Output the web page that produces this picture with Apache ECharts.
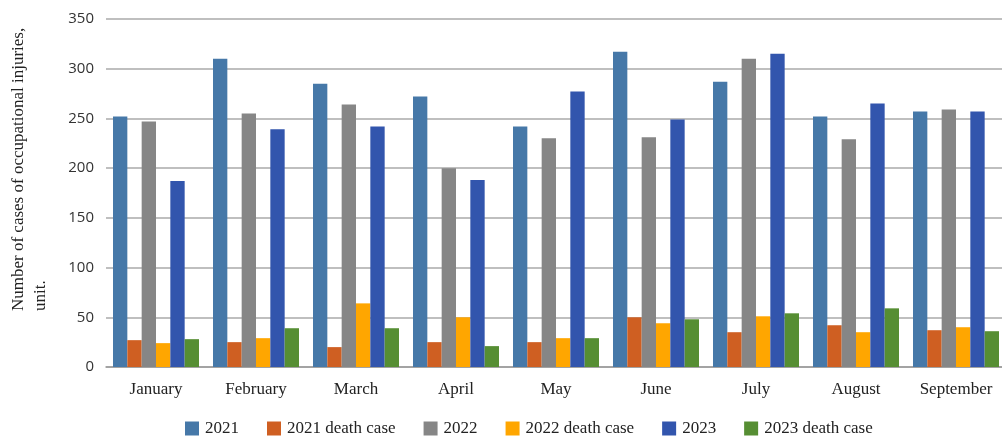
<!DOCTYPE html>
<html><head><meta charset="utf-8">
<script src="https://cdn.jsdelivr.net/npm/echarts@6/dist/echarts.min.js"></script>
<style>html,body{margin:0;padding:0;background:#fff}#c{width:1002px;height:437px}</style>
</head><body><div id="c"></div>
<script>
const categories = ['January','February','March','April','May','June','July','August','September'];
const s2021 = [252, 310, 285, 272, 242, 317, 287, 252, 257];
const s2021d = [27, 25, 20, 25, 25, 50, 35, 42, 37];
const s2022 = [247, 255, 264, 200, 230, 231, 310, 229, 259];
const s2022d = [24, 29, 64, 50, 29, 44, 51, 35, 40];
const s2023 = [187, 239, 242, 188, 277, 249, 315, 265, 257];
const s2023d = [28, 39, 39, 21, 29, 48, 54, 59, 36];
const yTicks = [0, 50, 100, 150, 200, 250, 300, 350];
const yTitle = 'Number of cases of occupational injuries,\nunit.';

const names = ['2021','2021 death case','2022','2022 death case','2023','2023 death case'];
const colors = ['#4678a8','#cf5f22','#868686','#ffa600','#3255ad','#568e33'];
const data = [s2021, s2021d, s2022, s2022d, s2023, s2023d];
const serif = 'Liberation Serif';
const sans = 'Open Sans';

const chart = echarts.init(document.getElementById('c'));
chart.setOption({
  animation: false,
  color: colors,
  grid: {left: 106, right: -4, top: 19, bottom: 70, containLabel: false, outerBoundsMode: 'none'},
  legend: {
    top: 415, left: 180, itemWidth: 14, itemHeight: 14, itemGap: 28,
    icon: 'rect',
    textStyle: {fontFamily: serif, fontSize: 17, color: '#222', padding: [0, 0, 0, 1]},
    data: names
  },
  graphic: [{
    type: 'text', x: 8, y: 311, rotation: Math.PI / 2,
    style: {text: yTitle, fontFamily: serif, fontSize: 17, fill: '#222',
      lineHeight: 22, align: 'left', verticalAlign: 'top'}
  }],
  xAxis: {
    type: 'category', data: categories,
    axisLine: {lineStyle: {color: '#9a9a9a', width: 1.5}},
    axisTick: {show: false},
    axisLabel: {fontFamily: serif, fontSize: 17, color: '#222', margin: 14}
  },
  yAxis: {
    type: 'value', min: 0, max: 350, interval: 50,
    axisLine: {show: false}, axisTick: {show: false},
    axisLabel: {fontFamily: sans, fontSize: 15, color: '#333', margin: 12,
      formatter: v => yTicks.includes(v) ? String(v) : ''},
    splitLine: {lineStyle: {color: '#aaaaaa', width: 1.5}}
  },
  series: data.map((d, i) => ({
    name: names[i], type: 'bar', data: d,
    barGap: '0%', barCategoryGap: '14%',
    itemStyle: {color: colors[i]}
  }))
});
</script></body></html>
